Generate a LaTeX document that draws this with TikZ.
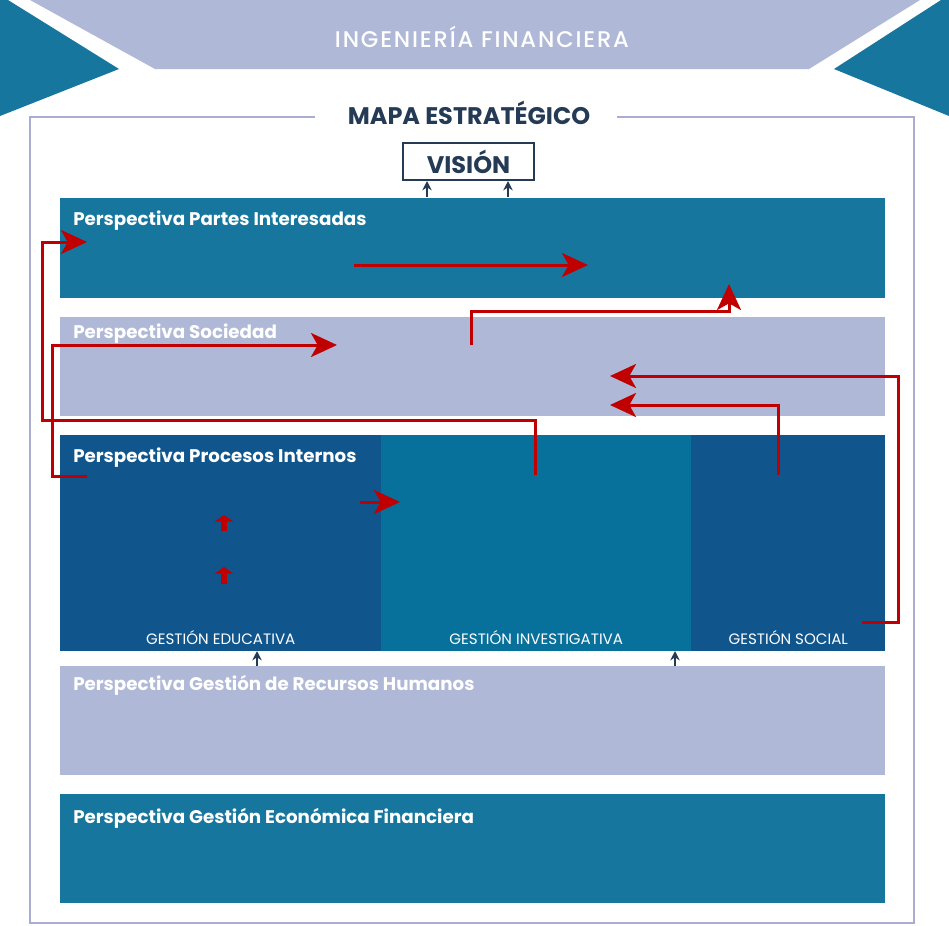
\documentclass[tikz,border=0pt]{standalone}
\usepackage{fontspec}
\setmainfont{Poppins}
\newfontfamily\medfont[LetterSpace=8]{Poppins Medium}
\usetikzlibrary{arrows.meta,positioning}
\definecolor{tealband}{RGB}{22,118,157}
\definecolor{lavband}{RGB}{175,184,214}
\definecolor{darkband}{RGB}{16,86,141}
\definecolor{midband}{RGB}{7,112,155}
\definecolor{navy}{RGB}{36,58,85}
\definecolor{redline}{RGB}{192,0,0}
\definecolor{framecol}{RGB}{170,172,208}
\newcommand{\pxl}{0.75pt}

\tikzset{
 band/.style={rectangle, inner sep=0pt, anchor=north west},
 bandtext/.style={anchor=base west, inner sep=0pt, text=white, font=\bfseries\fontsize{13.7}{16}\selectfont},
 coltext/.style={anchor=base, inner sep=0pt, text=white, font=\fontsize{11.3}{13}\selectfont},
 redarrow/.style={draw=redline, line width=2.25pt, -{Stealth[length=19.5pt, width=18pt, inset=5pt]}},
 smallup/.style={draw=redline, line width=4.5pt, -{Triangle[length=5pt, width=14pt]}},
 tinyarrow/.style={draw=navy, line width=1.2pt, -{Stealth[length=7pt, width=7pt]}}
}

\begin{document}
\begin{tikzpicture}[x=0.75pt, y=-0.75pt]
\useasboundingbox (0,0) rectangle (949,925);

% banner
\fill[lavband] (30,0) -- (920,0) -- (809,69) -- (155,69) -- cycle;
\fill[tealband] (0,0) -- (8,0) -- (119,69) -- (0,116) -- cycle;
\fill[tealband] (949,0) -- (941,0) -- (834,69) -- (949,116) -- cycle;
\node[text=white, font=\medfont\fontsize{17}{20}\selectfont] (titulo) at (482,37) {INGENIERÍA FINANCIERA};

% frame
\draw[framecol, line width=1.5pt] (315,117) -- (30,117) -- (30,923) -- (914,923) -- (914,117) -- (617,117);
\node[text=navy, font=\bfseries\fontsize{18}{21}\selectfont] (mapa) at (469,113) {MAPA ESTRATÉGICO};
\node[draw=navy, line width=1.8pt, minimum width=131*\pxl, minimum height=37*\pxl, text=navy, font=\bfseries\fontsize{18}{21}\selectfont] (vision) at (468.5,161.5) {VISIÓN};

% perspectivas
\foreach \name/\y/\h/\col/\base/\txt in {partes/198/100/tealband/225/{Perspectiva Partes Interesadas},
  sociedad/317/99/lavband/338/{Perspectiva Sociedad},
  rrhh/666/109/lavband/690/{Perspectiva Gestión de Recursos Humanos},
  economica/794/109/tealband/823/{Perspectiva Gestión Económica Financiera}}{
 \node[band, fill=\col, minimum width=825*\pxl, minimum height=\h*\pxl] (\name) at (60,\y) {};
 \node[bandtext] (\name-t) at (73,\base) {\txt};
}

% procesos internos
\foreach \name/\x/\w/\col/\txt in {educativa/60/321/darkband/{GESTIÓN EDUCATIVA},
  investigativa/381/310/midband/{GESTIÓN INVESTIGATIVA},
  social/691/194/darkband/{GESTIÓN SOCIAL}}{
 \node[band, fill=\col, minimum width=\w*\pxl, minimum height=216*\pxl] (\name) at (\x,435) {};
 \node[coltext] (\name-t) at ([yshift=7*\pxl]\name.south) {\txt};
}
\node[bandtext] (procesos-t) at (73,462) {Perspectiva Procesos Internos};

% red connectors
\coordinate (a1) at (535,475); \coordinate (a2) at (87,242);
\coordinate (b1) at (87,476);  \coordinate (b2) at (337,345);
\coordinate (c1) at (471,345); \coordinate (c2) at (729,284);
\coordinate (d1) at (862,622); \coordinate (d2) at (610,376);
\coordinate (e1) at (778,475); \coordinate (e2) at (610,405);
\draw[redarrow] (a1) |- (42,420) |- (a2);
\draw[redarrow] (b1) -| (52,345) -- (b2);
\draw[redarrow] (354,265) -- (588,265);
\draw[redarrow] (c1) |- (729,311) -- (c2);
\draw[redarrow] (d1) -| (898,376) -- (d2);
\draw[redarrow] (e1) |- (e2);
\draw[redarrow] (360,502) -- (400,502);
\draw[smallup] (224,531) -- (224,515);
\draw[smallup] (224,584) -- (224,567);

% small navy arrows
\foreach \x/\ya/\yb in {427/197/181, 508/197/181, 257/666/651, 675/666/651}
 \draw[tinyarrow] (\x,\ya) -- (\x,\yb);

\end{tikzpicture}
\end{document}
